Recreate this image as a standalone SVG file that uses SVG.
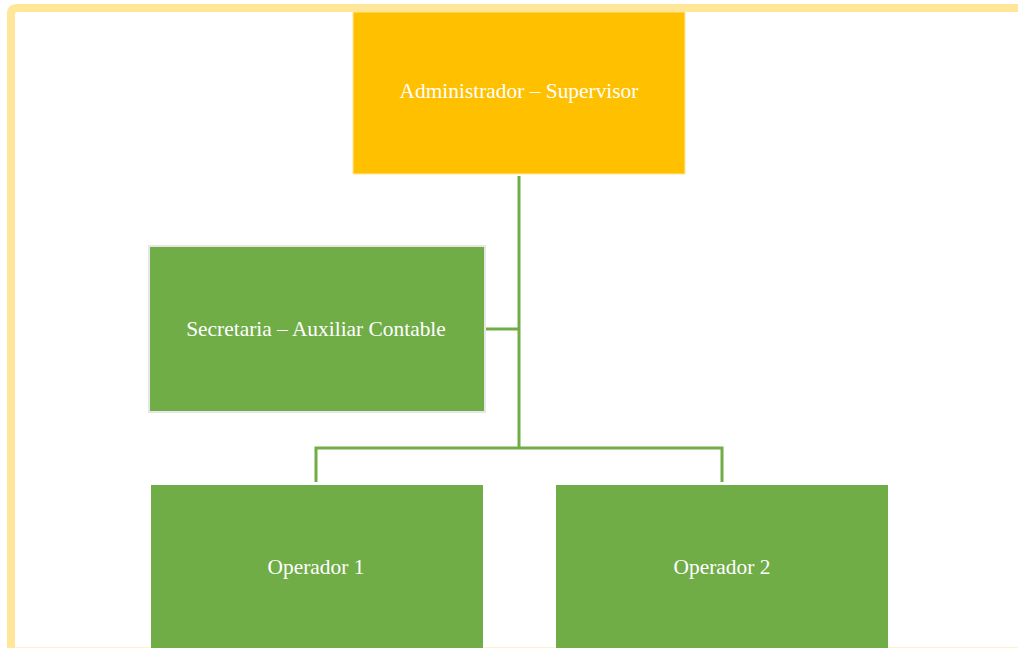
<svg xmlns="http://www.w3.org/2000/svg" width="1018" height="648" viewBox="0 0 1018 648">
  <style>
    .lbl { font-family: "Liberation Serif", "Times New Roman", serif; font-size: 21.4px; fill: #ffffff; text-anchor: middle; dominant-baseline: central; }
    .green { fill: #70AD47; }
    .conn { stroke: #70AD47; stroke-width: 3; fill: none; }
  </style>
  <rect width="1018" height="648" fill="#ffffff"/>
  <!-- page frame -->
  <path d="M11 648 V14 Q11 8 17 8 H1018" fill="none" stroke="#FFE699" stroke-width="8"/>
  <line x1="15" y1="647.5" x2="1018" y2="647.5" stroke="#FFF2CC" stroke-width="1"/>

  <g id="connectors">
    <path class="conn" d="M519 176 V448"/>
    <path class="conn" d="M486 329 H519"/>
    <path class="conn" d="M316 482 V448 H722 V482"/>
  </g>

  <g id="node-admin">
    <rect x="353" y="12" width="332" height="162" fill="#FFC000" stroke="#FFE699" stroke-width="1"/>
    <text class="lbl" x="519" y="91">Administrador – Supervisor</text>
  </g>

  <g id="node-secretaria">
    <rect x="149" y="246" width="336" height="166" class="green" stroke="#E7E6E6" stroke-width="2"/>
    <text class="lbl" x="316" y="329">Secretaria – Auxiliar Contable</text>
  </g>

  <g id="node-operador1">
    <rect x="151" y="485" width="332" height="165" class="green"/>
    <text class="lbl" x="316" y="567">Operador 1</text>
  </g>

  <g id="node-operador2">
    <rect x="556" y="485" width="332" height="165" class="green"/>
    <text class="lbl" x="722" y="567">Operador 2</text>
  </g>
</svg>
